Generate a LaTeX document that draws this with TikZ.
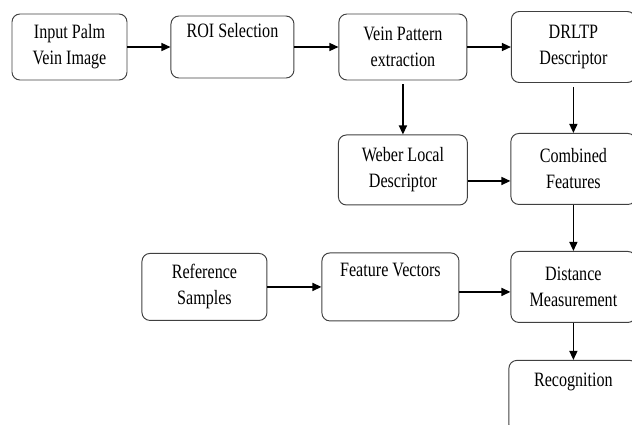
\documentclass[tikz,border=0pt]{standalone}
\usepackage{fontspec}
\setmainfont{Liberation Serif}[FakeStretch=0.79]
\usetikzlibrary{arrows.meta, positioning}

\begin{document}
\begin{tikzpicture}[
  >={Triangle[length=1.8mm, width=1.6mm]}, node distance=9mm and 9mm,
  box/.style={draw=black!75, rounded corners=1.6mm, line width=0.55pt, minimum width=25mm,
    minimum height=14mm, align=center, font=\fontsize{11.6}{14.8}\selectfont},
  arr/.style={->, line width=0.8pt}
]
\useasboundingbox (0,0) rectangle (12.64,-8.48);
% top row
\node[box, minimum width=23mm, minimum height=13.2mm] (In) at (1.39,-0.94) {Input Palm\\Vein Image};
\node[box, minimum width=24.6mm, minimum height=12.4mm, right=8.6mm of In] (ROI) {ROI Selection\\\strut};
\node[box, minimum width=25.6mm, minimum height=13.2mm, right=8.8mm of ROI] (VP) {Vein Pattern\\extraction};
\node[box, minimum width=24.8mm, minimum height=14.2mm, right=8.7mm of VP] (DR) {DRLTP\\Descriptor};
% second row
\node[box, minimum width=25.8mm, below=10.8mm of VP] (WLD) {Weber Local\\Descriptor};
\node[box, minimum height=14.2mm, below=10mm of DR] (CF) {Combined\\Features};
% third row
\node[box, minimum height=14.2mm, below=9.2mm of CF] (DM) {Distance\\Measurement};
\node[box, minimum width=27.4mm, minimum height=13.6mm, left=10.2mm of DM] (FV) {Feature Vectors\\\strut};
\node[box, minimum height=13.4mm, left=10.8mm of FV] (RS) {Reference\\Samples};
\node[box, minimum width=25.8mm, minimum height=14.4mm, below=7.4mm of DM] (Rec) {Recognition\\\strut};
% connectors
\draw[arr] (In) -- (ROI);
\draw[arr] (ROI) -- (VP);
\draw[arr] (VP) -- (DR);
\draw[arr, shorten <=0.8mm] (VP) -- (WLD);
\draw[arr, shorten <=0.8mm] (DR) -- (CF);
\draw[arr] ([yshift=-2.2mm]WLD.east) -- ([yshift=-2.2mm]WLD.east -| CF.west);
\draw[arr] (CF) -- (DM);
\draw[arr] (RS) -- (FV);
\draw[arr] ([yshift=-1mm]FV.east) -- ([yshift=-1mm]FV.east -| DM.west);
\draw[arr] (DM) -- (Rec);
\end{tikzpicture}
\end{document}
